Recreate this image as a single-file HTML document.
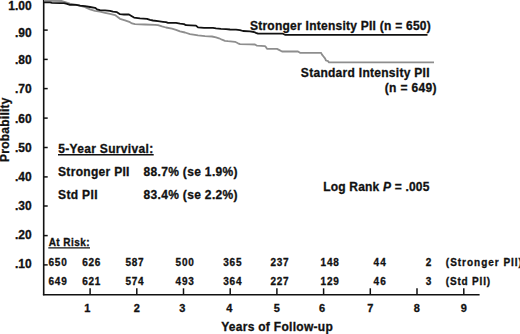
<!DOCTYPE html>
<html><head><meta charset="utf-8">
<style>
html,body{margin:0;padding:0;background:#fff;}
body{width:520px;height:334px;overflow:hidden;position:relative;}
svg{position:absolute;left:0;top:0;}
text{font-family:"Liberation Sans",sans-serif;font-weight:bold;fill:#111;stroke:#111;stroke-width:0.3px;}
</style></head>
<body>
<svg width="520" height="334" viewBox="0 0 520 334">
<g stroke="#111" stroke-width="1.6" fill="none">
<line x1="43.7" y1="0" x2="43.7" y2="295.3"/>
<line x1="42.9" y1="294.8" x2="479.6" y2="294.8"/>
</g>
<g stroke="#111" stroke-width="1.5">
<line x1="44" y1="30.1" x2="47.7" y2="30.1"/>
<line x1="44" y1="59.4" x2="47.7" y2="59.4"/>
<line x1="44" y1="88.6" x2="47.7" y2="88.6"/>
<line x1="44" y1="118.1" x2="47.7" y2="118.1"/>
<line x1="44" y1="147.5" x2="47.7" y2="147.5"/>
<line x1="44" y1="176.9" x2="47.7" y2="176.9"/>
<line x1="44" y1="206" x2="47.7" y2="206"/>
<line x1="44" y1="235.6" x2="47.7" y2="235.6"/>
<line x1="44" y1="264.9" x2="47.7" y2="264.9"/>
</g>
<g stroke="#111" stroke-width="1.5">
<line x1="90.1" y1="288.3" x2="90.1" y2="294.2"/>
<line x1="136.8" y1="288.3" x2="136.8" y2="294.2"/>
<line x1="183.5" y1="288.3" x2="183.5" y2="294.2"/>
<line x1="230.2" y1="288.3" x2="230.2" y2="294.2"/>
<line x1="276.9" y1="288.3" x2="276.9" y2="294.2"/>
<line x1="323.6" y1="288.3" x2="323.6" y2="294.2"/>
<line x1="370.3" y1="288.3" x2="370.3" y2="294.2"/>
<line x1="417" y1="288.3" x2="417" y2="294.2"/>
<line x1="463.8" y1="288.3" x2="463.8" y2="294.2"/>
</g>
<polyline fill="none" stroke="#8e8e8e" stroke-width="1.8" stroke-linejoin="round" points="44,0.8 62,1.0 70,3.6 78,5.2 85,7.2 90,9.3 95,10.8 100,11.6 105,12.8 110,13.9 115,15.1 118,17.2 120,18.8 125,20.3 130,22.2 132,23.4 135,24.2 145,24.5 155,24.9 158,25.2 162,26.4 166,27.5 172,28.7 176,29.8 180,31.4 185,32.5 190,34.1 195,34.8 198,35.4 205,36.2 212,36.5 216,37.4 219,38.3 222,39.7 225,40.8 228,41.2 235,41.8 238,43.3 240,44.1 250,44.3 255,44.5 257,45.7 265,46.1 266,47.2 267,48.8 277,48.9 279,49.9 282,51.5 298,51.5 300,52.8 321,52.8 322,54.6 323.5,56.5 325,58.4 326,60.5 328,61.1 329,62.3 434,62.3"/>
<polyline fill="none" stroke="#111" stroke-width="1.8" stroke-linejoin="round" points="44,2.4 50,2.4 52,2.8 60,3.1 64,3.2 67,3.8 70,4.8 76,4.8 80,5.6 85,6.2 90,7 95,7.8 97,9.3 100,10.1 105,10.3 110,10.8 113,11.6 117,12.2 120,14.2 124,14.5 129,14.5 131,15.7 134,17.6 140,18.4 147,18.8 150,19.9 153,20.5 158,21.2 163,21.8 166,22.2 168,22.9 176,22.9 180,23.7 184,24.1 186,25.2 196,25.6 198,27.4 204,27.8 213,27.8 216,28.3 221,28.8 226,29.1 230,29.5 236,29.7 240,30.2 243,31 250,31.4 254,32 256,32.9 258,33.7 283,33.7 285,34.8 427.5,34.8"/>
<g font-size="12" text-anchor="end">
<text x="31.6" y="10">1.00</text>
<text x="31.6" y="36.8">.90</text>
<text x="31.6" y="64.2">.80</text>
<text x="31.6" y="93">.70</text>
<text x="31.6" y="122.6">.60</text>
<text x="31.6" y="151.7">.50</text>
<text x="31.6" y="180.8">.40</text>
<text x="31.6" y="209.8">.30</text>
<text x="31.6" y="239.1">.20</text>
<text x="31.6" y="267.7">.10</text>
</g>
<text font-size="12" style="letter-spacing:0.25px" transform="translate(9.2,162) rotate(-90)">Probability</text>
<g font-size="11" text-anchor="middle" transform="translate(0.2,0.3)">
<text x="87" y="312">1</text>
<text x="136.6" y="312">2</text>
<text x="182" y="312">3</text>
<text x="229" y="312">4</text>
<text x="276.6" y="312">5</text>
<text x="321.8" y="312">6</text>
<text x="370" y="312">7</text>
<text x="416.7" y="312">8</text>
<text x="463.5" y="312">9</text>
</g>
<line x1="58" y1="154.8" x2="153.7" y2="154.8" stroke="#111" stroke-width="1.6"/>
<line x1="48.3" y1="247.8" x2="90" y2="247.8" stroke="#111" stroke-width="1.3"/>
<text x="249.95" y="30.2" font-size="12" style="letter-spacing:0.252px">Stronger Intensity PII (n = 650)</text>
<text x="300.85" y="76.9" font-size="12" style="letter-spacing:0.286px">Standard Intensity PII</text>
<text x="384.65" y="92.1" font-size="12" style="letter-spacing:0.362px">(n = 649)</text>
<text x="58.15" y="152.8" font-size="12" style="letter-spacing:0.333px">5-Year Survival:</text>
<text x="58.05" y="175.5" font-size="12" style="letter-spacing:0.305px">Stronger PII</text>
<text x="143.45" y="175.5" font-size="12" style="letter-spacing:0.339px">88.7% (se 1.9%)</text>
<text x="58.05" y="198.5" font-size="12" style="letter-spacing:0.350px">Std PII</text>
<text x="143.45" y="198.5" font-size="12" style="letter-spacing:0.339px">83.4% (se 2.2%)</text>
<text x="323.20" y="191.1" font-size="12" style="letter-spacing:0.194px">Log Rank <tspan font-style="italic">P</tspan> = .005</text>
<text x="221.15" y="330.75" font-size="12" style="letter-spacing:0.291px">Years of Follow-up</text>
<text x="48.70" y="245.6" font-size="10" style="letter-spacing:0.443px">At Risk:</text>
<text x="48.55" y="266.2" font-size="10" style="letter-spacing:0.750px">650</text>
<text x="82.15" y="266.2" font-size="10" style="letter-spacing:0.750px">626</text>
<text x="125.40" y="266.2" font-size="10" style="letter-spacing:0.750px">587</text>
<text x="175.60" y="266.2" font-size="10" style="letter-spacing:0.750px">500</text>
<text x="223.30" y="266.2" font-size="10" style="letter-spacing:0.750px">365</text>
<text x="270.40" y="266.2" font-size="10" style="letter-spacing:0.750px">237</text>
<text x="320.60" y="266.2" font-size="10" style="letter-spacing:0.750px">148</text>
<text x="373.40" y="266.2" font-size="10" style="letter-spacing:1.200px">44</text>
<text x="425.70" y="266.2" font-size="10" style="letter-spacing:0.000px">2</text>
<text x="48.55" y="285.3" font-size="10" style="letter-spacing:0.750px">649</text>
<text x="82.15" y="285.3" font-size="10" style="letter-spacing:0.750px">621</text>
<text x="125.40" y="285.3" font-size="10" style="letter-spacing:0.750px">574</text>
<text x="175.60" y="285.3" font-size="10" style="letter-spacing:0.750px">493</text>
<text x="223.30" y="285.3" font-size="10" style="letter-spacing:0.750px">364</text>
<text x="270.40" y="285.3" font-size="10" style="letter-spacing:0.750px">227</text>
<text x="320.60" y="285.3" font-size="10" style="letter-spacing:0.750px">129</text>
<text x="373.40" y="285.3" font-size="10" style="letter-spacing:1.200px">46</text>
<text x="425.70" y="285.3" font-size="10" style="letter-spacing:0.000px">3</text>
<text x="445.85" y="266.2" font-size="10" style="letter-spacing:0.981px">(Stronger PII)</text>
<text x="445.85" y="285.3" font-size="10" style="letter-spacing:0.806px">(Std PII)</text>
</svg>
</body></html>
